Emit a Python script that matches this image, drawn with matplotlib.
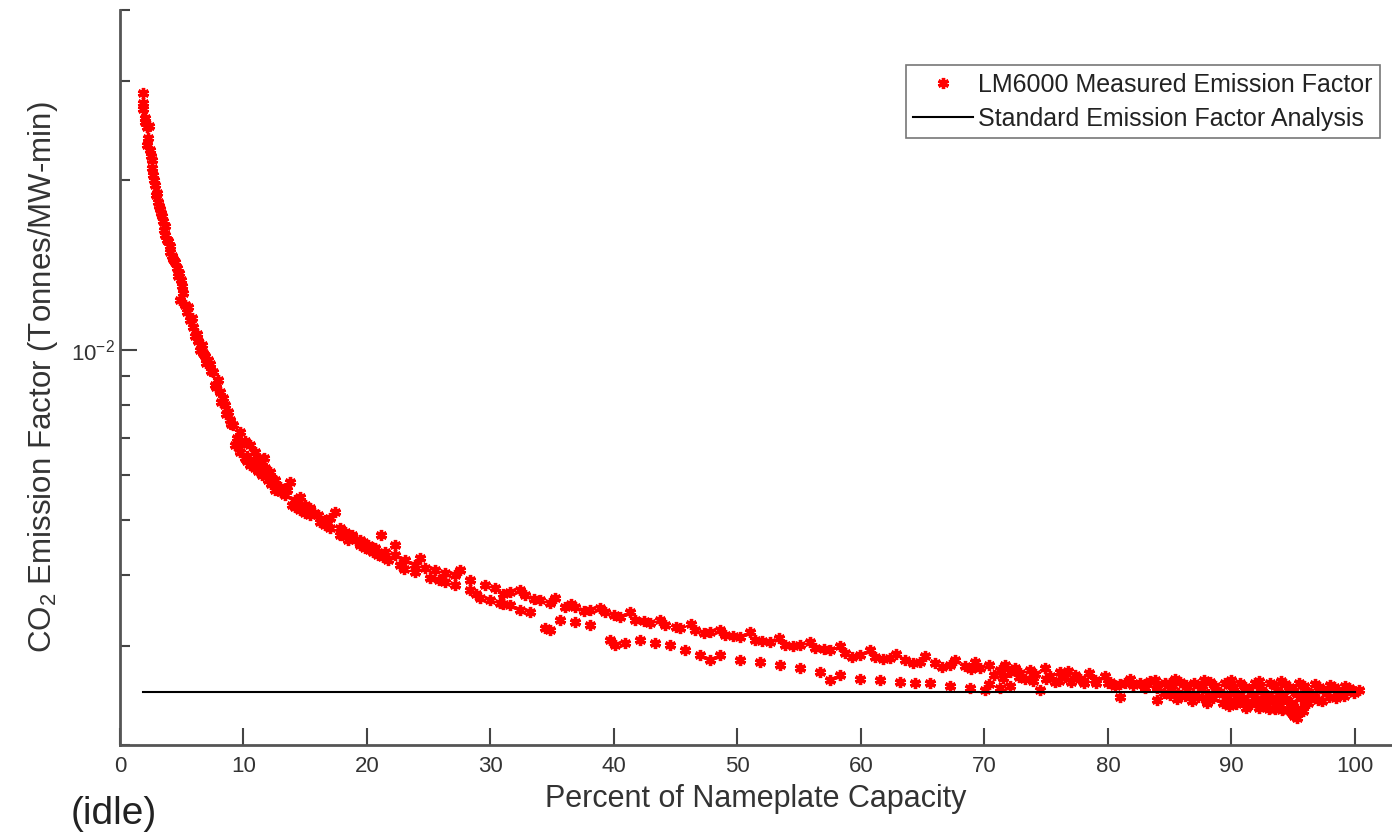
import matplotlib.pyplot as plt
from matplotlib.ticker import LogLocator, NullFormatter, FixedLocator, FixedFormatter

# emission factors are given in units of 1e-3 tonnes/MW-min
upper_pct = [1.86, 1.86, 2.02, 2.19, 2.35, 2.19, 2.43, 2.59, 2.59, 2.67, 2.83, 2.91, 3.08, 3.24, 3.40,
             3.48, 3.64, 3.64, 3.81, 4.05, 4.05, 4.21, 4.45, 4.62, 4.78, 4.94, 5.10, 4.86, 5.26, 5.43,
             5.67, 5.91, 6.07, 6.32, 6.48, 6.64, 6.88, 7.13, 7.29, 7.53, 7.69, 7.94, 8.10, 8.34, 8.50,
             8.74, 8.91, 9.15, 9.47, 9.72, 10.12, 10.53, 10.93, 11.17, 11.50, 11.74, 12.15, 12.55, 12.96,
             13.52, 14.17, 14.57, 14.98, 15.38, 16.03, 16.60, 17.00, 17.81, 18.22, 18.79, 19.43, 20.08,
             20.65, 21.46, 22.27, 23.08, 23.89, 24.70, 25.51, 26.32, 27.13, 28.34, 29.55, 30.36, 31.58,
             32.79, 34.01, 34.82, 36.03, 36.84, 38.06, 39.27, 40.49, 41.70, 42.91, 44.13, 45.34, 46.56,
             47.77, 48.99, 50.20, 51.42, 52.63, 53.85, 55.06, 56.28, 57.49, 58.70, 59.92, 61.13, 62.35,
             63.56, 64.78, 65.99, 67.21, 68.42, 69.64, 71.26, 72.06, 72.87, 74.09, 75.30, 76.52, 77.73,
             78.95, 80.16, 81.38, 82.59]
upper_ef = [28.5, 26.7, 25.3, 24.8, 24.9, 23.1, 22.6, 21.7, 21.0, 20.4, 19.6, 18.8, 18.3, 17.8, 17.3,
            16.9, 16.6, 16.0, 15.65, 15.3, 14.9, 14.7, 14.3, 14.0, 13.7, 13.3, 12.6, 12.26, 12.0, 11.7,
            11.3, 11.0, 10.6, 10.4, 10.0, 10.2, 9.76, 9.60, 9.45, 9.15, 8.67, 8.85, 8.43, 8.22, 7.99,
            7.77, 7.52, 7.37, 6.99, 7.16, 6.90, 6.79, 6.60, 6.44, 6.34, 6.18, 6.08, 5.89, 5.72,
            5.65, 5.43, 5.49, 5.32, 5.25, 5.11, 5.00, 5.04, 4.84, 4.76, 4.71, 4.61, 4.52,
            4.47, 4.40, 4.34, 4.25, 4.16, 4.11, 4.08, 4.03, 4.00, 3.92, 3.84, 3.79, 3.73,
            3.69, 3.61, 3.57, 3.51, 3.51, 3.47, 3.44, 3.37, 3.33, 3.29, 3.26, 3.22, 3.19,
            3.17, 3.13, 3.10, 3.07, 3.04, 3.01, 3.01, 2.97, 2.94, 2.91, 2.89, 2.86, 2.85,
            2.83, 2.80, 2.79, 2.77, 2.76, 2.74, 2.71, 2.69, 2.68, 2.67, 2.65, 2.64, 2.62,
            2.61, 2.59, 2.58, 2.57]

steep_pct = [1.9, 2.05, 2.3, 2.5, 2.75, 3.0, 3.15, 3.3, 3.55, 3.9, 4.3, 4.7, 5.0, 5.5, 5.8, 6.2,
             6.7, 7.0, 7.4, 7.8, 8.2, 8.6, 9.0, 9.6, 10.3, 10.8, 11.3, 12.4, 13.1, 14.4, 15.7, 16.8,
             18.5, 19.7, 20.4, 20.9]
steep_ef = [27.4, 25.8, 23.7, 22.1, 20.0, 19.0, 18.0, 17.5, 16.3, 15.6, 14.5, 13.5, 13.0, 11.9, 11.4,
            10.7, 9.9, 9.5, 9.2, 8.6, 8.1, 7.7, 7.4, 6.7, 6.5, 6.35, 6.1, 5.9, 5.6, 5.35, 5.15, 4.95,
            4.62, 4.58, 4.49, 4.38]

lower_pct = [9.31, 9.72, 10.12, 10.53, 10.93, 11.50, 11.98, 12.55, 13.36, 13.93, 14.57, 15.38, 16.19,
             17.00, 17.81, 18.62, 19.11, 19.43, 19.84, 20.24, 20.89, 21.70, 22.67, 23.89, 25.10, 26.32,
             27.13, 28.34, 29.15, 29.96, 30.77, 31.58, 32.39, 33.20, 34.41, 34.82, 35.63, 36.84, 38.06,
             39.68, 40.08, 40.89, 42.11, 43.32, 44.53, 45.75, 46.96, 47.77, 48.58, 50.20, 51.82, 53.44,
             55.06, 56.68, 57.49, 58.30, 59.92, 61.54, 63.16, 64.37, 65.59, 67.21, 68.83, 70.04, 71.26,
             10.3, 11.2, 12.2, 13.0, 14.2, 15.0, 16.6, 18.0, 19.6, 20.5, 21.3, 23.0, 25.8, 28.8, 31.0]
lower_ef = [6.79, 6.60, 6.44, 6.26, 6.18, 6.01, 5.89, 5.65, 5.54, 5.32, 5.21, 5.11, 4.96,
            4.84, 4.71, 4.65, 4.61, 4.52, 4.47, 4.43, 4.34, 4.25, 4.16, 4.05, 3.95, 3.89,
            3.84, 3.76, 3.64, 3.61, 3.57, 3.54, 3.47, 3.44, 3.22, 3.19, 3.33, 3.30, 3.26,
            3.07, 3.01, 3.03, 3.07, 3.03, 3.01, 2.94, 2.89, 2.83, 2.89, 2.83, 2.80, 2.77,
            2.74, 2.69, 2.61, 2.66, 2.62, 2.61, 2.59, 2.58, 2.57, 2.54, 2.52, 2.50, 2.52,
            6.36, 6.10, 5.80, 5.60, 5.28, 5.15, 4.90, 4.70, 4.55, 4.40, 4.30, 4.10, 3.92, 3.70, 3.56]

band_pct = [11.7, 13.8, 17.4, 21.1, 22.3, 24.3, 27.5, 32.4, 35.2, 38.9, 41.3, 43.7, 46.2, 48.6, 51.0,
            53.4, 55.9, 58.3, 60.7, 62.8, 65.2, 67.6, 69.2, 70.4, 70.4, 71.7, 72.1, 72.5, 73.3, 73.7,
            74.5, 74.9, 75.7, 76.1, 77.3, 78.1, 78.5, 79.8, 80.6, 81.0, 81.8, 83.0, 83.8, 84.0, 85.0,
            31.0, 33.5, 36.5, 37.6, 40.0, 42.4, 45.0, 47.3, 49.6, 52.0, 54.5, 57.0, 59.3, 61.8, 64.2,
            66.6, 68.9, 70.8, 71.5, 72.8, 73.9, 75.0, 76.0, 77.0, 78.0, 79.0, 80.0, 81.0, 82.0, 83.0,
            84.0, 72.3, 76.8]
band_ef = [6.44, 5.84, 5.17, 4.71, 4.52, 4.29, 4.08, 3.76, 3.64, 3.49, 3.44, 3.33, 3.27, 3.19, 3.17,
           3.09, 3.04, 3.00, 2.94, 2.90, 2.87, 2.83, 2.80, 2.77, 2.56, 2.77, 2.54, 2.74, 2.62, 2.71,
           2.50, 2.74, 2.59, 2.69, 2.66, 2.57, 2.68, 2.65, 2.54, 2.43, 2.62, 2.52, 2.61, 2.40, 2.57,
           3.70, 3.63, 3.55, 3.45, 3.40, 3.31, 3.24, 3.16, 3.12, 3.06, 3.00, 2.96, 2.86, 2.84, 2.79,
           2.75, 2.73, 2.66, 2.63, 2.64, 2.60, 2.62, 2.60, 2.59, 2.60, 2.58, 2.57, 2.56, 2.55, 2.56,
           2.55, 2.72, 2.70]

blob_pct = [83.4, 84.6, 85.8, 87.0, 88.3, 89.5, 90.7, 91.9, 93.1, 94.3, 95.5, 96.8, 98.0, 99.2,
            84.0, 85.2, 86.4, 87.6, 88.8, 90.1, 91.3, 92.5, 93.7, 94.9, 96.1, 97.4, 98.6, 99.8,
            85.0, 86.2, 87.3, 88.5, 89.7, 90.9, 92.0, 93.2, 94.4, 95.6, 96.7, 97.9, 99.1,
            86.8, 88.0, 89.3, 90.4, 91.6, 92.8, 93.9, 95.0, 96.2, 97.3,
            93.5, 94.6, 94.9, 95.1, 95.3, 95.8, 100.3,
            83.9, 85.1, 86.3, 87.5, 88.7, 89.9, 91.1, 92.3, 93.5, 94.7, 95.9, 97.1, 98.3, 99.5,
            84.5, 85.7, 86.9, 88.1, 89.3, 90.5, 91.7, 92.9, 94.1, 95.3, 96.5, 97.7, 98.9, 99.9,
            85.6, 87.9, 90.2, 91.0, 92.4, 93.6, 94.8, 96.0, 97.0, 98.5,
            85.4, 87.8, 90.0, 92.2, 94.0,
            89.8, 91.2, 92.2, 93.0, 94.1, 95.6]
blob_ef = [2.60, 2.58, 2.59, 2.57, 2.59, 2.58, 2.57, 2.58, 2.57, 2.56, 2.57, 2.56, 2.55, 2.54,
           2.52, 2.51, 2.50, 2.51, 2.49, 2.50, 2.51, 2.49, 2.50, 2.50, 2.49, 2.50, 2.49, 2.50,
           2.45, 2.44, 2.43, 2.42, 2.43, 2.42, 2.41, 2.42, 2.41, 2.42, 2.43, 2.43, 2.44,
           2.39, 2.37, 2.37, 2.36, 2.36, 2.35, 2.35, 2.34, 2.37, 2.39,
           2.32, 2.31, 2.28, 2.25, 2.23, 2.30, 2.50,
           2.55, 2.54, 2.55, 2.54, 2.54, 2.55, 2.53, 2.54, 2.54, 2.53, 2.54, 2.53, 2.53, 2.52,
           2.47, 2.47, 2.46, 2.46, 2.46, 2.45, 2.46, 2.45, 2.45, 2.46, 2.46, 2.47, 2.47, 2.47,
           2.41, 2.40, 2.39, 2.39, 2.38, 2.38, 2.37, 2.39, 2.40, 2.42,
           2.62, 2.61, 2.61, 2.60, 2.60,
           2.34, 2.33, 2.33, 2.32, 2.31, 2.32]

std_pct = [1.86, 100.0]
std_ef = [2.48, 2.48]

plt.rcParams['font.family'] = ['Liberation Sans', 'DejaVu Sans']
plt.rcParams['mathtext.fontset'] = 'custom'
plt.rcParams['mathtext.rm'] = 'Liberation Sans'
plt.rcParams['mathtext.it'] = 'Liberation Sans'

fig = plt.figure(figsize=(13.92, 8.35), dpi=100)
ax = fig.add_axes([120 / 1392, 90 / 835, 1272 / 1392, 735 / 835])

all_pct = upper_pct + steep_pct + lower_pct + band_pct + blob_pct
all_ef = upper_ef + steep_ef + lower_ef + band_ef + blob_ef
ax.plot(all_pct, [v * 1e-3 for v in all_ef], linestyle='none', marker=(6, 2, 0),
        markersize=8, markeredgewidth=2.4, color='#ff0000',
        label='LM6000 Measured Emission Factor')
ax.plot(std_pct, [v * 1e-3 for v in std_ef], color='black', linewidth=1.5,
        label='Standard Emission Factor Analysis')

ax.set_yscale('log')
ax.set_xlim(0, 103)
ax.set_ylim(2e-3, 4e-2)

ax.set_xticks(range(0, 101, 10))
ax.yaxis.set_major_locator(FixedLocator([1e-2]))
ax.yaxis.set_major_formatter(FixedFormatter(['10$^{-2}$']))
ax.yaxis.set_minor_locator(LogLocator(base=10, subs=range(2, 10)))
ax.yaxis.set_minor_formatter(NullFormatter())

for s in ['top', 'right']:
    ax.spines[s].set_visible(False)
for s in ['left', 'bottom']:
    ax.spines[s].set_color('#555555')
    ax.spines[s].set_linewidth(2)

ax.tick_params(axis='both', which='major', direction='in', length=12, width=1.5,
               colors='#444444', labelcolor='#333333', labelsize=16)
ax.tick_params(axis='y', which='minor', direction='in', length=7, width=1.5, colors='#444444')
ax.tick_params(axis='x', pad=8)

ax.set_xlabel('Percent of Nameplate Capacity', fontsize=22, color='#333333', labelpad=5)
ax.set_ylabel('CO$_2$ Emission Factor (Tonnes/MW-min)', fontsize=22.5, color='#333333', labelpad=8)

fig.text(114 / 1392, 1 - 814 / 835, '(idle)', fontsize=28, color='#222222',
         ha='center', va='center')

leg = ax.legend(loc='upper right', bbox_to_anchor=(0.9906, 0.925), fontsize=18,
                frameon=True, fancybox=False, edgecolor='#555555', handlelength=2.4,
                handletextpad=0.2, borderpad=0.3, labelspacing=0.4, borderaxespad=0)
leg.get_frame().set_linewidth(1.2)
for t in leg.get_texts():
    t.set_color('#222222')

fig.savefig('out.png', dpi=100)
